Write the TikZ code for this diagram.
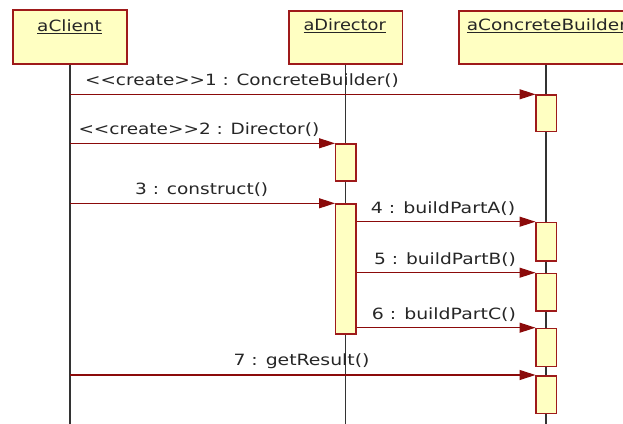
\documentclass[tikz,border=0pt]{standalone}
\usepackage{fontspec}
\setmainfont{DejaVu Sans}
\usetikzlibrary{arrows.meta}
\definecolor{boxred}{HTML}{9E1A1A}
\definecolor{boxfill}{HTML}{FFFFC2}
\definecolor{arrred}{HTML}{8B0A0A}
\definecolor{lifegray}{HTML}{333333}
\definecolor{txt}{HTML}{262626}
\newcommand{\fitw}[2]{\resizebox{#1pt}{\height}{#2}}
\tikzset{
  objbox/.style={draw=boxred, fill=boxfill, line width=1.5pt, rectangle, inner sep=0pt, anchor=north west},
  actbox/.style={draw=boxred, fill=boxfill, line width=1.5pt, rectangle, inner sep=0pt, anchor=north west, minimum width=20.5pt},
  lifeline/.style={draw=lifegray, line width=1.5pt},
  msg/.style={draw=arrred, line width=1.1pt, -{Triangle[length=16pt,width=10pt]}, shorten >=-0.5pt},
  lbl/.style={anchor=base west, inner sep=0pt, text=txt, font=\fontsize{15.5}{18}\selectfont},
}
\begin{document}
\begin{tikzpicture}[x=1pt,y=-1pt]
\useasboundingbox (0,0) rectangle (623,423);
\clip (0,0) rectangle (623,423);
% object boxes
\node[objbox, minimum width=113.7pt, minimum height=54pt] (client) at (12.3,9.3) {};
\node[objbox, minimum width=113.4pt, minimum height=53.3pt] (director) at (288.3,10) {};
\node[objbox, minimum width=190pt, minimum height=53.3pt] (builder) at (458.3,10) {};
\node[lbl] (clientlbl) at (37,31.5) {\fitw{64.7}{\underline{aClient}}};
\node[lbl] (directorlbl) at (303.3,30.5) {\fitw{82.4}{\underline{aDirector}}};
\node[lbl] (builderlbl) at (466.7,30.5) {\fitw{160}{\underline{aConcreteBuilder}}};
% lifelines
\coordinate (cend) at (70,430);
\coordinate (dend) at (345.5,430);
\coordinate (bend) at (546,430);
\draw[lifeline] (client.south -| cend) -- (cend);
\draw[lifeline] (director.south -| dend) -- (dend);
\draw[lifeline] (builder.south -| bend) -- (bend);
% activation boxes
\node[actbox, minimum height=36.4pt] (b1) at (535,94.3) {};
\node[actbox, minimum height=36.7pt] (d2) at (334.5,143.3) {};
\node[actbox, minimum height=130pt] (d3) at (334.5,203.3) {};
\node[actbox, minimum height=38.3pt] (b4) at (535,221.7) {};
\node[actbox, minimum height=37.3pt] (b5) at (535,272.7) {};
\node[actbox, minimum height=38pt] (b6) at (535,327.7) {};
\node[actbox, minimum height=37.7pt] (b7) at (535,375) {};
% messages
\coordinate (c1) at (70,94.3);
\coordinate (c2) at (70,143.3);
\coordinate (c3) at (70,203.3);
\coordinate (c7) at (70,375);
\draw[msg] (c1) -- (b1.north west);
\draw[msg] (c2) -- (d2.north west);
\draw[msg] (c3) -- (d3.north west);
\draw[msg] (d3.east |- b4.north) -- (b4.north west);
\draw[msg] (d3.east |- b5.north) -- (b5.north west);
\draw[msg] (d3.east |- b6.north) -- (b6.north west);
\draw[msg] (c7) -- (b7.north west);
% labels
\node[lbl] (m1) at (85,85.5) {\fitw{313.5}{<{}<create>{}>1 : ConcreteBuilder()}};
\node[lbl] (m2) at (78.3,134.5) {\fitw{240.7}{<{}<create>{}>2 : Director()}};
\node[lbl] (m3) at (135,194.5) {\fitw{133}{3 : construct()}};
\node[lbl] (m4) at (370.7,213) {\fitw{144.3}{4 : buildPartA()}};
\node[lbl] (m5) at (374,264) {\fitw{141.7}{5 : buildPartB()}};
\node[lbl] (m6) at (371.7,319) {\fitw{144}{6 : buildPartC()}};
\node[lbl] (m7) at (233.3,365.7) {\fitw{136}{7 : getResult()}};
\end{tikzpicture}
\end{document}
